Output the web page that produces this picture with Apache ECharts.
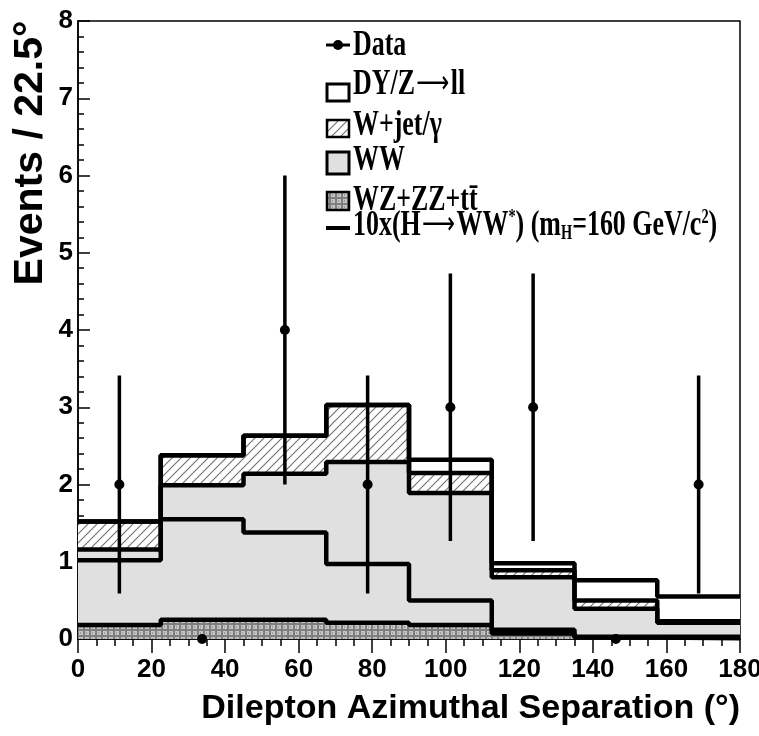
<!DOCTYPE html>
<html><head><meta charset="utf-8">
<script src="https://cdn.jsdelivr.net/npm/echarts@6/dist/echarts.min.js"></script>
<style>html,body{margin:0;padding:0;background:#fff}#c{width:759px;height:736px}</style>
</head><body><div id="c"></div>
<script>
// ---- data ----
const binEdges = [0, 22.5, 45, 67.5, 90, 112.5, 135, 157.5, 180];
const wzZzTt  = [0.18, 0.25, 0.25, 0.21, 0.18, 0.07, 0.02, 0.01];
const ww      = [0.98, 1.74, 1.89, 2.08, 1.71, 0.73, 0.37, 0.20];
const wJetGam = [0.36, 0.39, 0.49, 0.74, 0.26, 0.09, 0.11, 0.02];
const dyZll   = [0.00, 0.00, 0.00, 0.00, 0.17, 0.09, 0.26, 0.32];
const higgs10x = [1.02, 1.55, 1.38, 0.97, 0.50, 0.12, 0.03, 0.03];
const dataX   = [11.25, 33.75, 56.25, 78.75, 101.25, 123.75, 146.25, 168.75];
const dataY   = [2, 0, 4, 2, 3, 3, 0, 2];
const dataErr = [1.41, 0, 2, 1.41, 1.73, 1.73, 0, 1.41];
const xTickInterval = 20;
const yTickInterval = 1;
const yTitle = 'Events / 22.5°';
const xTitle = 'Dilepton Azimuthal Separation (°)';

// ---- helpers ----
function cum(...arrs) { return arrs[0].map((_, i) => arrs.reduce((s, a) => s + a[i], 0)); }
function steps(vals) {
  const pts = vals.map((v, i) => [binEdges[i], v]);
  pts.push([binEdges[binEdges.length - 1], vals[vals.length - 1]]);
  return pts;
}
function hatchPattern() {
  const c = document.createElement('canvas'); c.width = 9; c.height = 9;
  const g = c.getContext('2d');
  g.fillStyle = '#fff'; g.fillRect(0, 0, 9, 9);
  g.strokeStyle = '#707070'; g.lineWidth = 1.1;
  g.beginPath(); g.moveTo(0, 9); g.lineTo(9, 0);
  g.moveTo(-1, 1); g.lineTo(1, -1); g.moveTo(8, 10); g.lineTo(10, 8); g.stroke();
  return { image: c, repeat: 'repeat' };
}
function gridPattern() {
  const c = document.createElement('canvas'); c.width = 6; c.height = 6;
  const g = c.getContext('2d');
  g.fillStyle = '#7e7e7e'; g.fillRect(0, 0, 6, 6);
  g.fillStyle = '#c4c4c4'; g.fillRect(1, 1, 4, 4);
  g.fillStyle = '#9a9a9a'; g.fillRect(2, 2, 1, 2);
  return { image: c, repeat: 'repeat' };
}
const HATCH = hatchPattern();
const GRIDP = gridPattern();
const WWGRAY = '#e0e0e0';

const c1 = cum(wzZzTt);
const c2 = cum(wzZzTt, ww);
const c3 = cum(wzZzTt, ww, wJetGam);
const c4 = cum(wzZzTt, ww, wJetGam, dyZll);

function stackSeries(name, vals, fill) {
  return {
    name, type: 'line', step: 'end', data: steps(vals), symbol: 'none',
    lineStyle: { color: '#000', width: 4.5 },
    areaStyle: { color: fill, opacity: 1 },
    silent: true
  };
}

const serifText = 'Liberation Serif';
const legendFont = { fontFamily: serifText, fontWeight: 'bold', fontSize: 36, fill: '#000' };
const legRich = {
  sup: { fontFamily: serifText, fontWeight: 'bold', fontSize: 20, verticalAlign: 'top', lineHeight: 36 },
  sub: { fontFamily: serifText, fontWeight: 'bold', fontSize: 20, verticalAlign: 'bottom', lineHeight: 36 },
  arr: { fontFamily: 'DejaVu Sans', fontWeight: 'normal', fontSize: 32, lineHeight: 36, padding: [0, 2, 0, 2] }
};
function legText(y, text) {
  return { type: 'text', x: 353, y: y, scaleX: 0.72,
    style: Object.assign({ text: text, verticalAlign: 'middle', align: 'left', rich: legRich }, legendFont) };
}
const sansBold = { color: '#000', fontFamily: 'Liberation Sans', fontWeight: 'bold' };

const chart = echarts.init(document.getElementById('c'), null, { renderer: 'canvas' });
chart.setOption({
  animation: false,
  backgroundColor: '#fff',
  grid: { left: 78, right: 19, top: 21, bottom: 97, containLabel: false, outerBoundsMode: 'none',
          show: true, borderColor: '#000', borderWidth: 1.5, backgroundColor: 'transparent' },
  xAxis: {
    type: 'value', min: 0, max: 180, interval: xTickInterval,
    axisLine: { lineStyle: { color: '#000', width: 1.5 } },
    axisTick: { show: true, inside: false, length: 14, lineStyle: { color: '#000', width: 1.5 } },
    minorTick: { show: true, splitNumber: 4, length: 7, lineStyle: { color: '#000', width: 1.5 } },
    splitLine: { show: false },
    axisLabel: Object.assign({ fontSize: 26, margin: 18 }, sansBold),
    name: xTitle, nameLocation: 'end', nameGap: 0, nameMoveOverlap: false,
    nameTextStyle: Object.assign({ fontSize: 34, align: 'right', verticalAlign: 'top', padding: [53, 0, 0, 0] }, sansBold)
  },
  yAxis: {
    type: 'value', min: 0, max: 8, interval: yTickInterval,
    axisLine: { show: true, lineStyle: { color: '#000', width: 1.5 } },
    axisTick: { show: true, inside: true, length: 12, lineStyle: { color: '#000', width: 1.5 } },
    minorTick: { show: true, splitNumber: 5, length: 6, lineStyle: { color: '#000', width: 1.5 } },
    splitLine: { show: false },
    axisLabel: Object.assign({ fontSize: 26, margin: 5 }, sansBold)
  },
  series: [
    stackSeries('DY/Z→ll', c4, '#fff'),
    stackSeries('W+jet/γ', c3, HATCH),
    stackSeries('WW', c2, WWGRAY),
    stackSeries('WZ+ZZ+tt̄', c1, GRIDP),
    { name: '10x(H→WW*)', type: 'line', step: 'end', data: steps(higgs10x), symbol: 'none',
      lineStyle: { color: '#000', width: 4.5 }, silent: true, z: 3 },
    { name: 'Data', type: 'custom', z: 5, clip: false,
      data: dataX.map((x, i) => [x, dataY[i], dataErr[i]]),
      encode: { x: 0, y: 1 },
      renderItem: function (params, api) {
        const x = api.value(0), y = api.value(1), e = api.value(2);
        const p = api.coord([x, y]);
        const ch = [];
        if (e > 0) {
          const t = api.coord([x, y + e]), b = api.coord([x, y - e]);
          ch.push({ type: 'line', shape: { x1: p[0], y1: t[1], x2: p[0], y2: b[1] }, style: { stroke: '#000', lineWidth: 3.5 } });
        }
        ch.push({ type: 'circle', shape: { cx: p[0], cy: p[1], r: 5 }, style: { fill: '#000' } });
        return { type: 'group', children: ch };
      }
    }
  ],
  graphic: [
    { type: 'text', x: 31, y: 153, rotation: Math.PI / 2,
      style: { text: yTitle, align: 'center', verticalAlign: 'middle', fill: '#000',
               fontFamily: 'Liberation Sans', fontWeight: 'bold', fontSize: 41 } },
    { type: 'line', shape: { x1: 326, y1: 45, x2: 350, y2: 45 }, style: { stroke: '#000', lineWidth: 3 } },
    { type: 'circle', shape: { cx: 338, cy: 45, r: 5 }, style: { fill: '#000' } },
    legText(46, 'Data'),
    { type: 'rect', shape: { x: 327, y: 84, width: 22, height: 17 }, style: { fill: '#fff', stroke: '#000', lineWidth: 3 } },
    legText(85, 'DY/Z{arr|⟶}ll'),
    { type: 'rect', shape: { x: 327, y: 120, width: 22, height: 17 }, style: { fill: HATCH, stroke: '#000', lineWidth: 2.5 } },
    legText(126, 'W+jet/γ'),
    { type: 'rect', shape: { x: 327, y: 152, width: 22, height: 22 }, style: { fill: WWGRAY, stroke: '#000', lineWidth: 3 } },
    legText(161, 'WW'),
    { type: 'rect', shape: { x: 327, y: 192, width: 22, height: 18 }, style: { fill: GRIDP, stroke: '#000', lineWidth: 2.5 } },
    legText(201, 'WZ+ZZ+tt̄'),
    { type: 'line', shape: { x1: 326, y1: 228, x2: 350, y2: 228 }, style: { stroke: '#000', lineWidth: 4 } },
    legText(226, '10x(H{arr|⟶}WW{sup|*}) (m{sub|H}=160 GeV/c{sup|2})')
  ]
});
</script>
</body></html>
